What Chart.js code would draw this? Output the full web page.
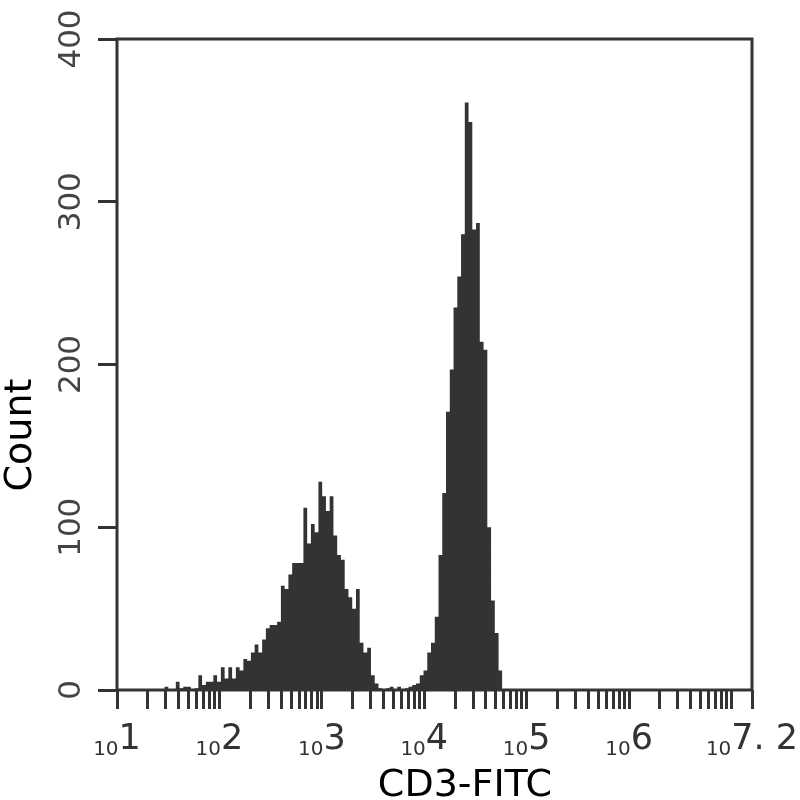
<!DOCTYPE html>
<html><head><meta charset="utf-8">
<script src="https://cdn.jsdelivr.net/npm/chart.js@4"></script>
<style>html,body{margin:0;padding:0;background:#fff}#wrap{width:800px;height:800px}</style>
</head><body><div id="wrap"><canvas id="c" width="800" height="800"></canvas></div>
<script>
// ---- data ----
const binLogStart = 1.4277;      // log10 of left edge of first bin
const binLogWidth = 0.036643;    // bin width in decades
const counts = [
  0,2,0,0,5,1,2,2,0,1,
  9,3,5,5,9,5,14,7,14,7,
  14,12,19,18,23,28,23,31,38,40,
  40,42,64,62,71,78,78,78,112,90,
  102,97,128,119,110,119,95,83,80,62,
  57,50,62,29,23,26,9,4,1,0,
  1,2,0,2,0,1,2,3,4,9,
  12,23,29,45,83,121,171,197,235,254,
  280,361,349,283,287,214,209,100,55,35,
  12,0
];
const xMinLog = 1, xMaxLog = 7.2;
const xLabelPositions = [1,2,3,4,5,6,7.2];
const xLabelExponents = ["1","2","3","4","5","6","7. 2"];
const yTickValues = [0,100,200,300,400];
const yTickLabels = ["0","100","200","300","400"];
const xTitle = "CD3-FITC";
const yTitle = "Count";

// log minor/major tick positions (in decades)
const xTickPositions = [];
for (let n = 1; n <= 6; n++) for (let m = 1; m <= 9; m++) xTickPositions.push(n + Math.log10(m));
xTickPositions.push(7, 7.2);

const points = counts.map((c, i) => ({x: binLogStart + i * binLogWidth, y: c}));

const FONT = "'DejaVu Sans', Verdana, sans-serif";
const INK = '#333333';

const decor = {
  id: 'decor',
  afterDatasetsDraw(chart) {
    const {ctx, chartArea: a} = chart;
    ctx.save();
    ctx.strokeStyle = INK; ctx.lineWidth = 3;
    ctx.strokeRect(a.left, a.top, a.right - a.left, a.bottom - a.top);
    ctx.restore();
  },
  afterDraw(chart) {
    const {ctx} = chart;
    const xs = chart.scales.x, ys = chart.scales.y;
    ctx.save();
    // y tick labels (rotated)
    ctx.fillStyle = '#444';
    ctx.font = '31px ' + FONT;
    ctx.textAlign = 'center'; ctx.textBaseline = 'alphabetic';
    yTickValues.forEach((v, i) => {
      const py = ys.getPixelForValue(v);
      ctx.save(); ctx.translate(80, py); ctx.rotate(-Math.PI/2);
      ctx.fillText(yTickLabels[i], 0, 0); ctx.restore();
    });
    // x tick labels: small "10" + big exponent
    ctx.textAlign = 'left';
    xLabelPositions.forEach((v, i) => {
      const px = xs.getPixelForValue(v);
      ctx.font = '20px ' + FONT; const w1 = ctx.measureText('10').width;
      ctx.font = '35px ' + FONT; const w2 = ctx.measureText(xLabelExponents[i]).width;
      const x0 = px - (w1 + w2) / 2;
      ctx.fillStyle = '#333';
      ctx.font = '20px ' + FONT; ctx.fillText('10', x0, 755);
      ctx.font = '35px ' + FONT; ctx.fillText(xLabelExponents[i], x0 + w1, 749);
    });
    // axis titles
    ctx.fillStyle = '#000';
    ctx.font = '38px ' + FONT;
    ctx.textAlign = 'center';
    ctx.fillText(xTitle, 465, 796);
    ctx.save(); ctx.translate(31, 435); ctx.rotate(-Math.PI/2);
    ctx.fillText(yTitle, 0, 0); ctx.restore();
    ctx.restore();
  }
};

new Chart(document.getElementById('c'), {
  type: 'line',
  data: { datasets: [{
    data: points,
    stepped: true,
    fill: 'origin',
    backgroundColor: INK,
    borderWidth: 0,
    borderColor: INK,
    pointRadius: 0,
    tension: 0
  }]},
  options: {
    responsive: false,
    animation: false,
    devicePixelRatio: 1,
    layout: { padding: { top: 39, right: 48, left: 0, bottom: 0 } },
    plugins: { legend: { display: false }, tooltip: { enabled: false } },
    scales: {
      x: {
        type: 'linear', min: xMinLog, max: xMaxLog,
        afterBuildTicks: s => { s.ticks = xTickPositions.map(v => ({value: v})); },
        afterFit: s => { s.height = 110; },
        ticks: { display: false },
        border: { display: false },
        grid: { display: true, drawOnChartArea: false, drawTicks: true, tickLength: 19, tickWidth: 3, tickColor: INK, color: INK }
      },
      y: {
        type: 'linear', min: 0, max: 400,
        afterBuildTicks: s => { s.ticks = yTickValues.map(v => ({value: v})); },
        afterFit: s => { s.width = 117; },
        ticks: { display: false },
        border: { display: false },
        grid: { display: true, drawOnChartArea: false, drawTicks: true, tickLength: 19, tickWidth: 3, tickColor: INK, color: INK }
      }
    }
  },
  plugins: [decor]
});
</script>
</body></html>
